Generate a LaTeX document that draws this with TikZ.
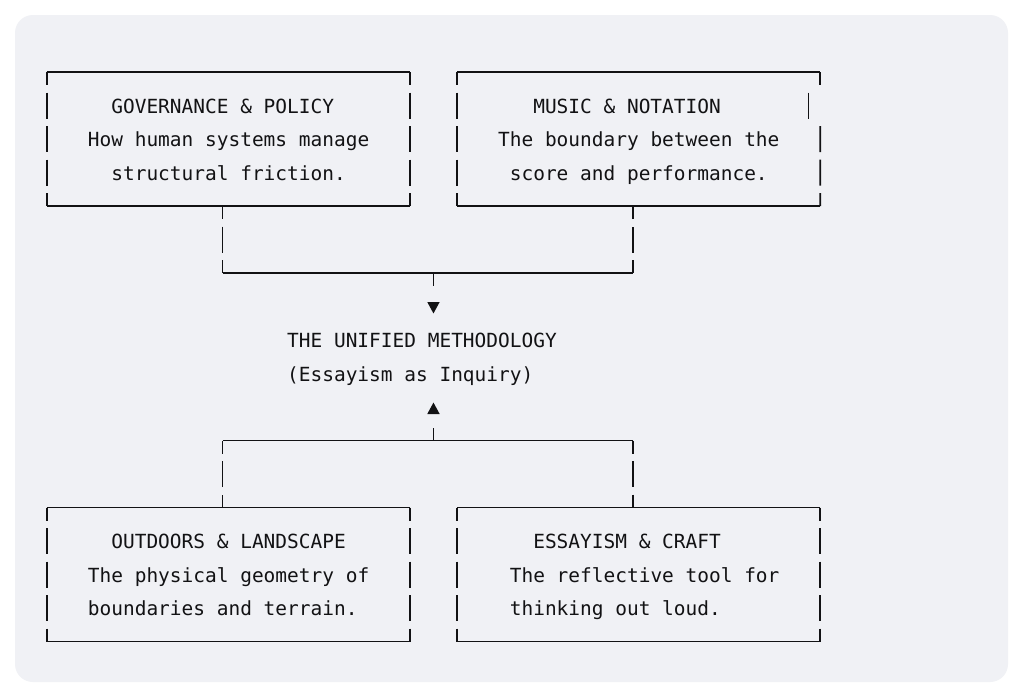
\documentclass[tikz,border=0pt]{standalone}
\usepackage{fontspec}
\newfontfamily\monofont{DejaVu Sans Mono}
\usetikzlibrary{arrows.meta}
\definecolor{cardbg}{RGB}{240,241,245}
\definecolor{ink}{RGB}{18,18,20}
\newcommand\colx[1]{46.7+11.72*(#1)}
\newcommand\rowy[1]{72+33.5*(#1)}
\begin{document}
\begin{tikzpicture}[x=1pt,y=-1pt,
  rule/.style={draw=ink,line width=1.6pt},
  vseg/.style={rule,dash pattern=on 26pt off 7.5pt,dash phase=13pt},
  txt/.style={inner sep=0pt,anchor=base west,text=ink,font=\monofont\fontsize{19.47}{33.5}\selectfont},
  frame/.style={draw=none,inner sep=0pt,outer sep=0pt,minimum width=363.32pt,minimum height=134pt,anchor=north west},
  tipdown/.style={rule,dash pattern=on 13pt off 60pt,-{Triangle[width=12pt,length=11.5pt]}}]
\useasboundingbox (0,0) rectangle (1024,699);
\fill[white] (0,0) rectangle (1024,699);
\fill[cardbg,rounded corners=18pt] (15,15) rectangle (1008,682);

% boxes
\node[frame] (b1) at ({\colx{0}},{\rowy{0}}) {};
\node[frame] (b2) at ({\colx{35}},{\rowy{0}}) {};
\node[frame] (b3) at ({\colx{0}},{\rowy{13}}) {};
\node[frame] (b4) at ({\colx{35}},{\rowy{13}}) {};

\foreach \b in {b1,b2,b3,b4}{
  \draw[rule] (\b.north west) -- (\b.north east);
  \draw[rule] (\b.south west) -- (\b.south east);
  \draw[vseg] (\b.north west) -- (\b.south west);
}
\foreach \b in {b1,b3,b4}{
  \draw[vseg] (\b.north east) -- (\b.south east);
}
% right side of b2 (row 1 bar is one column to the left)
\coordinate (r2a) at ({\colx{66}},{\rowy{0}});
\coordinate (r2b) at ({\colx{66}},{\rowy{0}+13});
\coordinate (r2c) at ({\colx{65}},{\rowy{1}-13});
\coordinate (r2d) at ({\colx{65}},{\rowy{1}+13});
\coordinate (r2e) at ({\colx{66}},{\rowy{2}-13});
\draw[rule] (r2a) -- (r2b);
\draw[rule] (r2c) -- (r2d);
\draw[rule,dash pattern=on 26pt off 7.5pt] (r2e) -- (b2.south east);

% top connector
\coordinate (j1) at ({\colx{15}},{\rowy{4}});
\coordinate (j2) at ({\colx{50}},{\rowy{4}});
\coordinate (m1) at ({\colx{15}},{\rowy{6}});
\coordinate (m2) at ({\colx{50}},{\rowy{6}});
\coordinate (c1) at ({\colx{33}},{\rowy{6}});
\coordinate (a1) at ({\colx{33}},313.5);
\draw[vseg] (j1) -- (m1);
\draw[rule] (m1) -- (m2);
\draw[vseg] (m2) -- (j2);
\draw[tipdown] (c1) -- (a1);

% bottom connector
\coordinate (j3) at ({\colx{15}},{\rowy{13}});
\coordinate (j4) at ({\colx{50}},{\rowy{13}});
\coordinate (m3) at ({\colx{15}},{\rowy{11}});
\coordinate (m4) at ({\colx{50}},{\rowy{11}});
\coordinate (c2) at ({\colx{33}},{\rowy{11}});
\coordinate (a2) at ({\colx{33}},402.5);
\draw[vseg] (j3) -- (m3);
\draw[rule] (m3) -- (m4);
\draw[vseg] (m4) -- (j4);
\draw[tipdown] (c2) -- (a2);

% texts
\node[txt] (t1a) at ({\colx{6}-5.86},{\rowy{1}+7.9}) {GOVERNANCE \& POLICY};
\node[txt] (t1b) at ({\colx{4}-5.86},{\rowy{2}+7.9}) {How human systems manage};
\node[txt] (t1c) at ({\colx{6}-5.86},{\rowy{3}+7.9}) {structural friction.};

\node[txt] (t2a) at ({\colx{42}-5.86},{\rowy{1}+7.9}) {MUSIC \& NOTATION};
\node[txt] (t2b) at ({\colx{39}-5.86},{\rowy{2}+7.9}) {The boundary between the};
\node[txt] (t2c) at ({\colx{40}-5.86},{\rowy{3}+7.9}) {score and performance.};

\node[txt] (core1) at ({\colx{21}-5.86},{\rowy{8}+7.9}) {THE UNIFIED METHODOLOGY};
\node[txt] (core2) at ({\colx{21}-5.86},{\rowy{9}+7.9}) {(Essayism as Inquiry)};

\node[txt] (t3a) at ({\colx{6}-5.86},{\rowy{14}+7.9}) {OUTDOORS \& LANDSCAPE};
\node[txt] (t3b) at ({\colx{4}-5.86},{\rowy{15}+7.9}) {The physical geometry of};
\node[txt] (t3c) at ({\colx{4}-5.86},{\rowy{16}+7.9}) {boundaries and terrain.};

\node[txt] (t4a) at ({\colx{42}-5.86},{\rowy{14}+7.9}) {ESSAYISM \& CRAFT};
\node[txt] (t4b) at ({\colx{40}-5.86},{\rowy{15}+7.9}) {The reflective tool for};
\node[txt] (t4c) at ({\colx{40}-5.86},{\rowy{16}+7.9}) {thinking out loud.};
\end{tikzpicture}
\end{document}
